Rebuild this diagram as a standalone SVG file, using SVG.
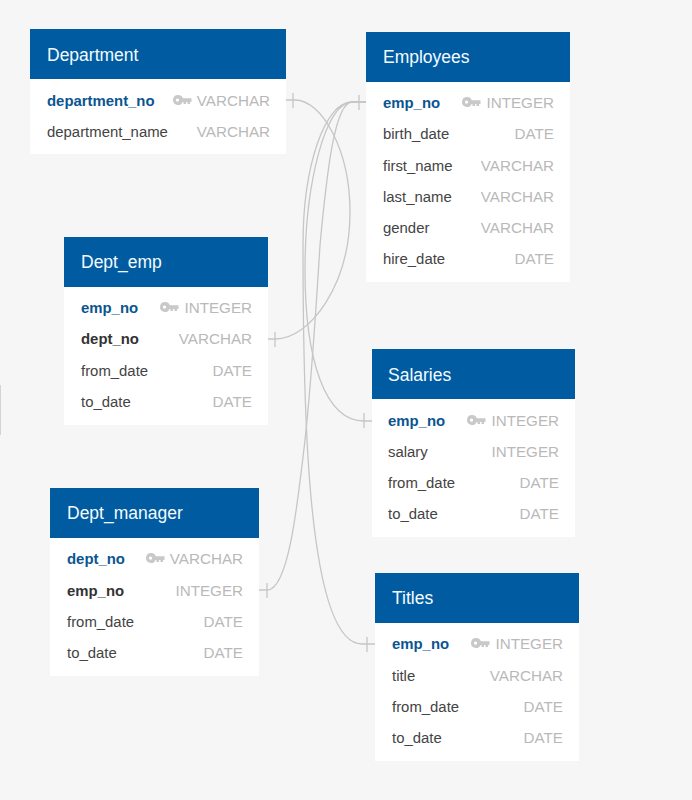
<svg xmlns="http://www.w3.org/2000/svg" xmlns:xlink="http://www.w3.org/1999/xlink" width="692" height="800" viewBox="0 0 692 800">
<style>
text{font-family:"Liberation Sans",Arial,sans-serif;font-size:14.9px;fill:#444}
.h{fill:#005ba1}.b{fill:#fff}
.t{font-size:17.5px;fill:#f4fbff}
.pk{font-weight:bold;fill:#0b5590}
.fk{font-weight:bold;fill:#333}
.ty{fill:#b9b9b9;text-anchor:end;font-size:15.2px}
.c{fill:none;stroke:#c6c6c6;stroke-width:1.3}
.k{fill:#c9c9c9}
</style>
<defs>
<g id="key"><path class="k" fill-rule="evenodd" d="M5 -5a5 5 0 0 1 4.800 3.300H18.500V2H17V4H14.500V2H13V4H10.500V2H9.600A5 5 0 1 1 5 -5ZM4.500 -1.500a1.600 1.600 0 1 0 .01 0Z"/></g>
</defs>
<rect width="692" height="800" fill="#f6f6f6"/>
<rect x="0" y="385" width="1" height="50" fill="#d4d4d4"/>
<g id="connectors" class="c">
<path d="M286 100H295C322 100 350 150 350 212C350 285 310 339 275 339H268"/>
<path d="M366 102H352C325 102 303 165 303 245C303 400 306 644 362 644H375"/>
<path d="M366 102H352C325 102 305 185 305 270C305 360 325 421 364 421H372"/>
<path d="M366 102H352C335 102 327 170 320 245C316 310 311 385 305 440C297 510 288 590 267 590H259"/>
<path d="M293 93V108M359 95V110M275 332V347M364 413V428M267 583V598M367 637V652"/>
</g>
<g id="department">
<rect class="b" x="30" y="79" width="256" height="75"/><rect class="h" x="30" y="29" width="256" height="50"/>
<text class="t" x="47" y="61">Department</text>
<text class="pk" x="47" y="106">department_no</text><use xlink:href="#key" href="#key" x="173" y="100"/><text class="ty" x="270" y="106">VARCHAR</text>
<text x="47" y="137">department_name</text><text class="ty" x="270" y="137">VARCHAR</text>
</g>
<g id="employees">
<rect class="b" x="366" y="82" width="204" height="200"/><rect class="h" x="366" y="32" width="204" height="50"/>
<text class="t" x="383" y="63">Employees</text>
<text class="pk" x="383" y="108">emp_no</text><use xlink:href="#key" href="#key" x="462" y="102"/><text class="ty" x="554" y="108">INTEGER</text>
<text x="383" y="139">birth_date</text><text class="ty" x="554" y="139">DATE</text>
<text x="383" y="171">first_name</text><text class="ty" x="554" y="171">VARCHAR</text>
<text x="383" y="202">last_name</text><text class="ty" x="554" y="202">VARCHAR</text>
<text x="383" y="233">gender</text><text class="ty" x="554" y="233">VARCHAR</text>
<text x="383" y="264">hire_date</text><text class="ty" x="554" y="264">DATE</text>
</g>
<g id="dept_emp">
<rect class="b" x="64" y="287" width="204" height="138"/><rect class="h" x="64" y="237" width="204" height="50"/>
<text class="t" x="81" y="268">Dept_emp</text>
<text class="pk" x="81" y="313">emp_no</text><use xlink:href="#key" href="#key" x="160" y="307"/><text class="ty" x="252" y="313">INTEGER</text>
<text class="fk" x="81" y="344">dept_no</text><text class="ty" x="252" y="344">VARCHAR</text>
<text x="81" y="376">from_date</text><text class="ty" x="252" y="376">DATE</text>
<text x="81" y="407">to_date</text><text class="ty" x="252" y="407">DATE</text>
</g>
<g id="salaries">
<rect class="b" x="372" y="399" width="203" height="138"/><rect class="h" x="372" y="349" width="203" height="50"/>
<text class="t" x="388" y="381">Salaries</text>
<text class="pk" x="388" y="426">emp_no</text><use xlink:href="#key" href="#key" x="467" y="420"/><text class="ty" x="559" y="426">INTEGER</text>
<text x="388" y="457">salary</text><text class="ty" x="559" y="457">INTEGER</text>
<text x="388" y="488">from_date</text><text class="ty" x="559" y="488">DATE</text>
<text x="388" y="519">to_date</text><text class="ty" x="559" y="519">DATE</text>
</g>
<g id="dept_manager">
<rect class="b" x="50" y="538" width="209" height="138"/><rect class="h" x="50" y="488" width="209" height="50"/>
<text class="t" x="67" y="519">Dept_manager</text>
<text class="pk" x="67" y="564">dept_no</text><use xlink:href="#key" href="#key" x="146" y="558"/><text class="ty" x="243" y="564">VARCHAR</text>
<text class="fk" x="67" y="596">emp_no</text><text class="ty" x="243" y="596">INTEGER</text>
<text x="67" y="627">from_date</text><text class="ty" x="243" y="627">DATE</text>
<text x="67" y="658">to_date</text><text class="ty" x="243" y="658">DATE</text>
</g>
<g id="titles">
<rect class="b" x="375" y="623" width="204" height="138"/><rect class="h" x="375" y="573" width="204" height="50"/>
<text class="t" x="392" y="604">Titles</text>
<text class="pk" x="392" y="649">emp_no</text><use xlink:href="#key" href="#key" x="471" y="643"/><text class="ty" x="563" y="649">INTEGER</text>
<text x="392" y="681">title</text><text class="ty" x="563" y="681">VARCHAR</text>
<text x="392" y="712">from_date</text><text class="ty" x="563" y="712">DATE</text>
<text x="392" y="743">to_date</text><text class="ty" x="563" y="743">DATE</text>
</g>
</svg>
